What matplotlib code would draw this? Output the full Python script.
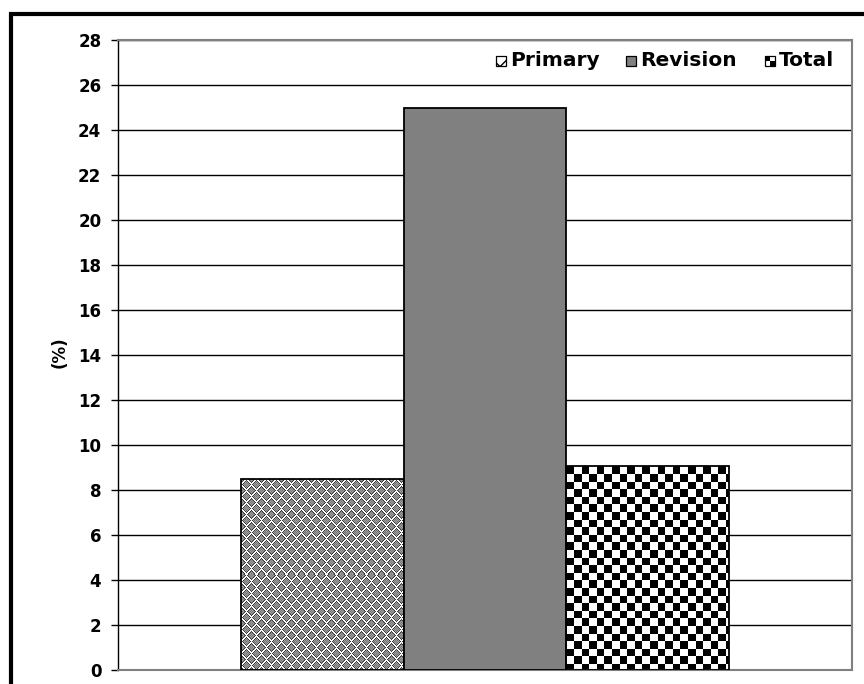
import numpy as np
import matplotlib

matplotlib.use("Agg")
import matplotlib.pyplot as plt
from matplotlib.patches import Rectangle

series = ["Primary", "Revision", "Total"]
values = [8.5, 25.0, 9.05]
y_ticks = list(range(0, 29, 2))

FONT = "DejaVu Sans"
GRAY = "#808080"

W, H, DPI = 864, 684, 100
AX_L, AX_R, AX_T, AX_B = 118, 852, 40, 670


def weave_img(nrow, ncol, period=10, band=6):
    """Herringbone-style fill: rows of light chevrons on a gray ground,
    every other row shifted by half a period."""
    r = np.arange(nrow)[:, None]
    c = np.arange(ncol)[None, :]
    shift = (r // band % 2) * (period // 2)
    tri = np.abs((c + shift) % period - period // 2)
    d = (r % band) - tri
    img = np.where((r + c) % 2, 0.48, 0.62)
    img = np.where((d == 0) | (d == 1), 1.0, img)
    img = np.where((d == 2) | (d == -1), 0.22, img)
    return img


def checker_img(nrow, ncol, cell=7.6):
    r = (np.arange(nrow) / cell).astype(int)
    c = (np.arange(ncol) / cell).astype(int)
    return ((r[:, None] + c[None, :]) % 2).astype(float)


def px(x, y):
    """pixel position -> axes fraction"""
    return (x - AX_L) / (AX_R - AX_L), (AX_B - y) / (AX_B - AX_T)


fig = plt.figure(figsize=(W / DPI, H / DPI), dpi=DPI)
ax = fig.add_axes([AX_L / W, 1 - AX_B / H, (AX_R - AX_L) / W, (AX_B - AX_T) / H])
ax.set_xlim(0, 1)
ax.set_ylim(0, 28)

bar_w = 0.222
xs = [0.5 + (i - 1) * bar_w for i in range(len(series))]
faces = ["none", GRAY, "none"]
bars = ax.bar(xs, values, width=bar_w, color=faces, edgecolor="black",
              linewidth=1.3, zorder=3)

# pattern fills for the first and last bars, clipped to the bar outline
for bar, maker in ((bars[0], weave_img), (bars[2], checker_img)):
    x0, x1 = bar.get_x(), bar.get_x() + bar.get_width()
    h = bar.get_height()
    p0 = ax.transData.transform((x0, 0))
    p1 = ax.transData.transform((x1, h))
    ncol = int(round(p1[0] - p0[0]))
    nrow = int(round(p1[1] - p0[1]))
    im = ax.imshow(maker(nrow, ncol), extent=(x0, x1, 0, h), origin="upper",
                   interpolation="nearest", cmap="gray", vmin=0, vmax=1,
                   aspect="auto", zorder=2)
    im.set_clip_path(bar)
ax.set_xlim(0, 1)
ax.set_ylim(0, 28)

ax.set_yticks(y_ticks)
ax.set_xticks([])
ax.yaxis.grid(True, color="black", linewidth=1)
ax.set_axisbelow(True)
ax.tick_params(axis="y", direction="out", length=5, width=1, pad=7,
               labelsize=12)
for lab in ax.get_yticklabels():
    lab.set_fontfamily(FONT)
    lab.set_fontweight("bold")
ax.spines["left"].set_color("black")
ax.spines["left"].set_linewidth(1)
for side in ("top", "right", "bottom"):
    ax.spines[side].set_color(GRAY)
    ax.spines[side].set_linewidth(1.5)

fig.text(60 / W, 1 - 352 / H, "(%)", rotation=90, ha="center", va="center",
         fontsize=12, fontweight="bold", family=FONT)

# legend drawn by hand: small swatch + label
icon = 10
legend_y = 61
legend_items = [(496, 510), (626, 640), (765, 779)]
for (ix, tx), name in zip(legend_items, series):
    x0, y0 = px(ix, legend_y + icon / 2)
    w = icon / (AX_R - AX_L)
    hh = icon / (AX_B - AX_T)
    if name == "Primary":
        ax.add_patch(Rectangle((x0, y0), w, hh, transform=ax.transAxes,
                               facecolor="white", edgecolor="black",
                               hatch="xx", linewidth=0.9, zorder=4))
    elif name == "Revision":
        ax.add_patch(Rectangle((x0, y0), w, hh, transform=ax.transAxes,
                               facecolor=GRAY, edgecolor="black",
                               linewidth=0.9, zorder=4))
    else:
        for qi, qj in ((0, 1), (1, 0)):
            ax.add_patch(Rectangle((x0 + qi * w / 2, y0 + qj * hh / 2),
                                   w / 2, hh / 2, transform=ax.transAxes,
                                   facecolor="black", linewidth=0, zorder=4))
        ax.add_patch(Rectangle((x0, y0), w, hh, transform=ax.transAxes,
                               facecolor="none", edgecolor="black",
                               linewidth=0.9, zorder=5))
    ax.text(*px(tx, legend_y), name, transform=ax.transAxes, ha="left",
            va="center", fontsize=14.5, fontweight="bold", family=FONT)

# heavy outer frame around the whole chart
fig.add_artist(Rectangle((10.5 / W, -10 / H), (890 - 10.5) / W,
                         (H - 14 + 10) / H, transform=fig.transFigure,
                         fill=False, edgecolor="black", linewidth=3))

fig.savefig("out.png", dpi=DPI)
plt.close(fig)
